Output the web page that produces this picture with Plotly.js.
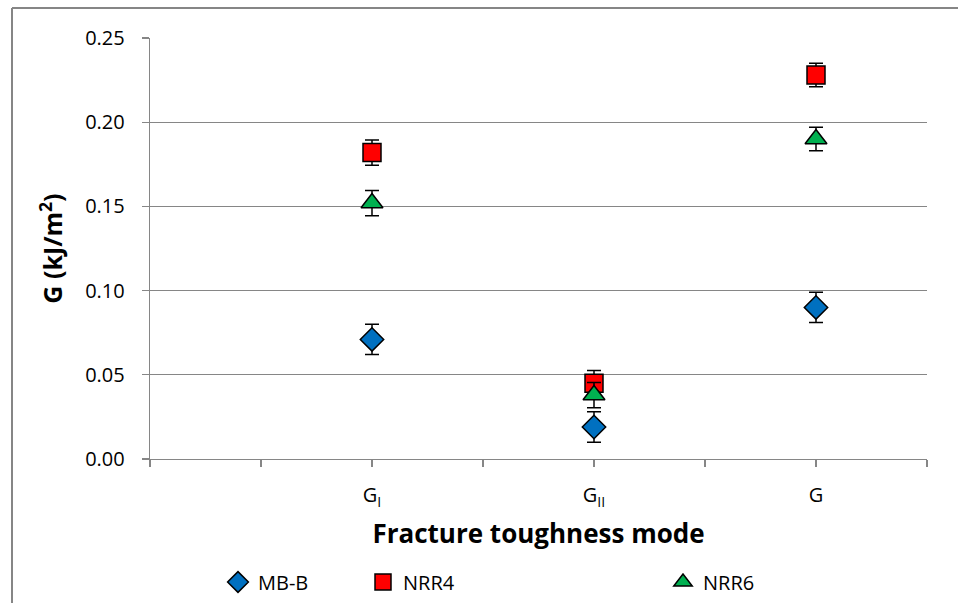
<!DOCTYPE html>
<html>
<head>
<meta charset="utf-8">
<script src="https://cdn.plot.ly/plotly-3.0.1.min.js"></script>
<style>html,body{margin:0;padding:0;background:#fff;}#chart{width:958px;height:603px;}</style>
</head>
<body>
<div id="chart"></div>
<script>
const categories = ["G<sub>I</sub>", "G<sub>II</sub>", "G"];
const catPos = [1, 2, 3];
const seriesNames = ["MB-B", "NRR4", "NRR6"];
const mbbValues = [0.071, 0.019, 0.090];
const mbbErrors = [0.009, 0.009, 0.009];
const nrr4Values = [0.182, 0.045, 0.228];
const nrr4Errors = [0.0075, 0.0075, 0.007];
const nrr6Values = [0.152, 0.038, 0.190];
const nrr6Errors = [0.0075, 0.0075, 0.007];
const yTicks = [0, 0.05, 0.10, 0.15, 0.20, 0.25];

const FONT = "'Open Sans', sans-serif";

function mk(name, y, err, symbol, color, size, legendId) {
  return {
    type: "scatter", mode: "markers", name: name,
    x: catPos, y: y,
    error_y: {type: "data", array: err, visible: true, color: "#000", thickness: 1.5, width: 7},
    marker: {symbol: symbol, color: color, size: size, line: {color: "#000", width: 1.5}},
    legend: legendId, showlegend: true, cliponaxis: false
  };
}

const traces = [
  mk(seriesNames[0], mbbValues, mbbErrors, "diamond", "#0070C0", 18, "legend"),
  mk(seriesNames[1], nrr4Values, nrr4Errors, "square", "#FF0000", 18, "legend2"),
  mk(seriesNames[2], nrr6Values, nrr6Errors, "triangle-up", "#00B050", 19, "legend3")
];

function leg(x) {
  return {orientation: "h", xref: "container", yref: "container", x: x, y: 1 - 582 / 603,
    xanchor: "left", yanchor: "middle",
    font: {family: FONT, size: 20, color: "#000"}, bgcolor: "rgba(0,0,0,0)", itemwidth: 30};
}

const layout = {
  width: 958, height: 603,
  margin: {l: 150, r: 31, t: 38, b: 144},
  paper_bgcolor: "#fff", plot_bgcolor: "#fff",
  font: {family: FONT, size: 20, color: "#000"},
  xaxis: {
    range: [0, 3.5], tickmode: "array", tickvals: catPos, ticktext: categories,
    showgrid: false, zeroline: false, showline: true, linecolor: "#868686", linewidth: 1.3,
    ticks: "outside", ticklen: 7, tickcolor: "#868686", tickwidth: 1.3,
    minor: {tickmode: "linear", tick0: 0, dtick: 0.5, ticks: "outside", ticklen: 7, tickcolor: "#868686", tickwidth: 1.3, showgrid: false},
    ticklabelstandoff: 11,
    tickfont: {family: FONT, size: 20, color: "#000"},
    title: {text: "Fracture toughness mode", font: {family: FONT, size: 26, color: "#000", weight: "bold"}, standoff: 15},
    automargin: false, fixedrange: true
  },
  yaxis: {
    range: [0, 0.25], tickmode: "array", tickvals: yTicks, ticktext: yTicks.map(v => v.toFixed(2)),
    showgrid: true, gridcolor: "#868686", gridwidth: 1.3, zeroline: false,
    showline: true, linecolor: "#868686", linewidth: 1.3,
    ticks: "outside", ticklen: 7, tickcolor: "#868686", tickwidth: 1.3,
    ticklabelstandoff: 13,
    tickfont: {family: FONT, size: 20, color: "#000"},
    title: {text: "G (kJ/m<sup>2</sup>)", font: {family: FONT, size: 25, color: "#000", weight: "bold"}, standoff: 15},
    automargin: false, fixedrange: true
  },
  legend: {...leg(218 / 958)},
  legend2: {...leg(363 / 958)},
  legend3: {...leg(663 / 958)},
  shapes: [
    {type: "line", xref: "paper", yref: "paper", x0: -0.1776, x1: -0.1776, y0: 1.0713, y1: -0.36, line: {color: "#868686", width: 2}},
    {type: "line", xref: "paper", yref: "paper", x0: -0.1776, x1: 1.06, y0: 1.0713, y1: 1.0713, line: {color: "#868686", width: 2}}
  ],
  showlegend: true
};

Plotly.newPlot("chart", traces, layout, {displayModeBar: false, staticPlot: true});
</script>
</body>
</html>
